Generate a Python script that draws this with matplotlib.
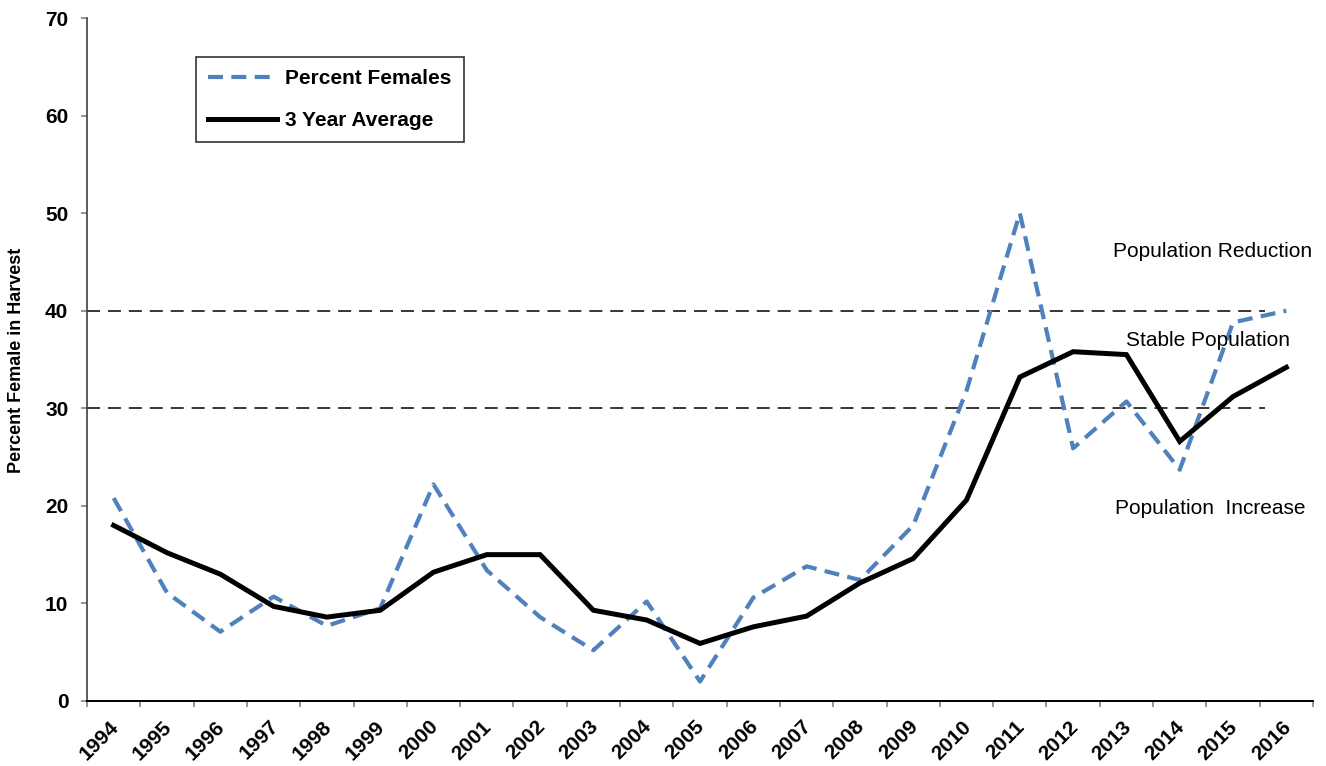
import numpy as np
import matplotlib
matplotlib.use("Agg")
import matplotlib.pyplot as plt
import matplotlib.transforms as mtransforms

plt.rcParams['font.family'] = ['Liberation Sans', 'DejaVu Sans']

years = [str(y) for y in range(1994, 2017)]
percent_females = [20.8, 11.1, 7.1, 10.7, 7.7, 9.5, 22.2, 13.4, 8.6, 5.2, 10.2, 2.0,
                   10.6, 13.8, 12.4, 18.0, 31.8, 50.0, 25.9, 30.7, 23.7, 38.8, 40.0]
three_year_avg = [18.0, 15.2, 13.0, 9.7, 8.6, 9.3, 13.2, 15.0, 15.0, 9.3, 8.3, 5.9,
                  7.6, 8.7, 12.1, 14.6, 20.6, 33.2, 35.8, 35.5, 26.6, 31.2, 34.2]
threshold_levels = [40, 30]
threshold_span = [0, 22.1]
y_ticks = [0, 10, 20, 30, 40, 50, 60, 70]

W, H = 1326, 766
fig = plt.figure(figsize=(W / 100, H / 100), dpi=100)
ax = fig.add_axes([87 / W, 1 - 701 / H, (1313 - 87) / W, (701 - 18) / H])

n = len(years)
x = np.arange(n) + 0.5

# threshold lines
for lvl in threshold_levels:
    ax.plot(threshold_span, [lvl, lvl], color='black', lw=1.1,
            dashes=(8.5, 5.2), zorder=1)

ax.plot(x, percent_females, color='#4F81BD', lw=3.0, dashes=(3.6, 2.0),
        label='Percent Females', zorder=2)
ax.plot(x, three_year_avg, color='black', lw=3.6, solid_joinstyle='miter',
        label='3 Year Average', zorder=3)

ax.set_xlim(0, n)
ax.set_ylim(0, 70)

# category boundaries carry the tick marks, centres carry the labels
ax.set_xticks(np.arange(n + 1))
ax.set_xticklabels([])
ax.set_xticks(x, minor=True)
ax.set_xticklabels(years, minor=True, rotation=45, ha='right', va='top',
                   rotation_mode='anchor', fontsize=15, fontweight='bold')
ax.tick_params(axis='x', which='major', length=4.5, width=1.2, color='#808080',
               direction='out')
ax.tick_params(axis='x', which='minor', length=0, pad=11.5)

ax.set_yticks(y_ticks)
ax.set_yticklabels([str(v) for v in y_ticks], fontsize=15, fontweight='bold')
ax.tick_params(axis='y', length=4.5, width=1.2, color='#808080', pad=9)

for side in ['top', 'right']:
    ax.spines[side].set_visible(False)
ax.spines['left'].set_color('#404040')
ax.spines['bottom'].set_color('black')
ax.spines['left'].set_linewidth(1.2)
ax.spines['bottom'].set_linewidth(1.4)

# nudge the rotated year labels slightly left of the category centre
offset = mtransforms.ScaledTranslation(-5 / 100, 0, fig.dpi_scale_trans)
for lab in ax.get_xticklabels(minor=True):
    lab.set_transform(lab.get_transform() + offset)

fig.text(17 / W, 1 - 360 / H, 'Percent Female in Harvest', rotation=90,
         ha='center', va='center', fontsize=13, fontweight='bold')

ax.text(19.25, 46.1, 'Population Reduction', fontsize=15, va='center', ha='left')
ax.text(19.49, 36.9, 'Stable Population', fontsize=15, va='center', ha='left')
ax.text(19.29, 19.7, 'Population  Increase', fontsize=15, va='center', ha='left')

leg = fig.legend(loc='upper left', bbox_to_anchor=(196 / W, 1 - 57 / H),
                 prop={'size': 15, 'weight': 'bold'}, frameon=True,
                 fancybox=False, edgecolor='black', handlelength=3.3,
                 handletextpad=0.4, labelspacing=1.09, borderpad=0.58,
                 borderaxespad=0)
leg.get_frame().set_linewidth(1.2)

fig.savefig('out.png', dpi=100)
